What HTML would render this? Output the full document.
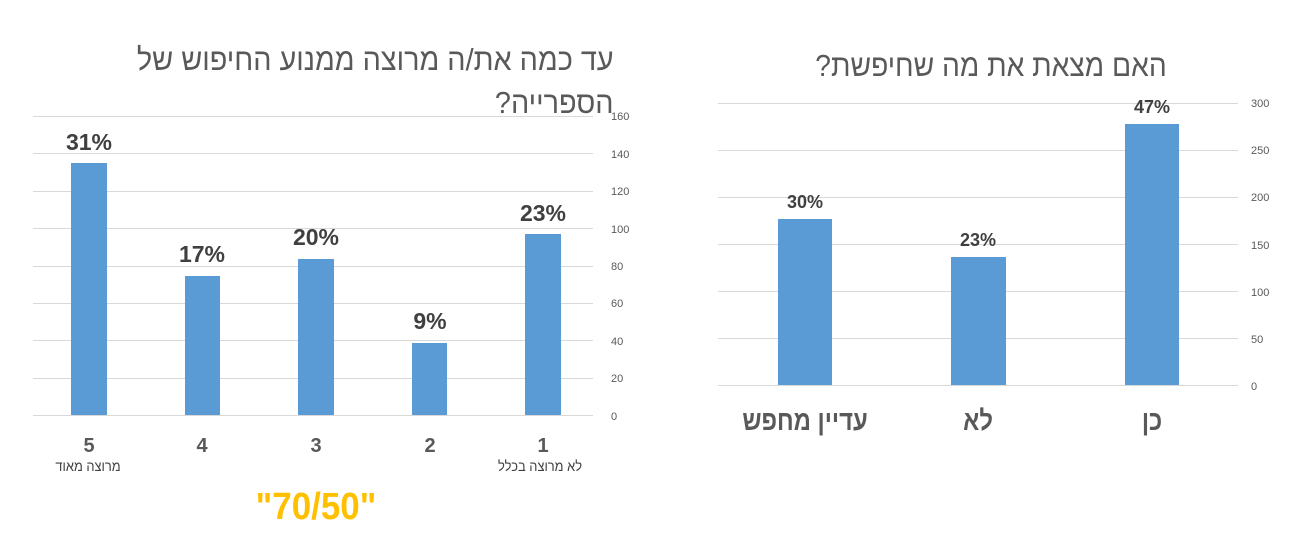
<!DOCTYPE html>
<html><head><meta charset="utf-8"><style>
body{margin:0;width:1294px;height:540px;background:#fff;position:relative;overflow:hidden;font-family:"Liberation Sans","Noto Sans CJK SC",sans-serif;}
.a{position:absolute;white-space:nowrap;}
.g{position:absolute;height:1px;background:#d9d9d9;}
.b{position:absolute;background:#5b9bd5;}
.t{font-size:11px;color:#595959;}
.c{transform:translateX(-50%);text-align:center;}
.p{font-weight:bold;color:#404040;}
.h{direction:rtl;color:#595959;}
</style></head><body>
<!-- left chart -->
<div class="g" style="left:33px;width:560px;top:116px"></div>
<div class="g" style="left:33px;width:560px;top:153px"></div>
<div class="g" style="left:33px;width:560px;top:191px"></div>
<div class="g" style="left:33px;width:560px;top:228px"></div>
<div class="g" style="left:33px;width:560px;top:266px"></div>
<div class="g" style="left:33px;width:560px;top:303px"></div>
<div class="g" style="left:33px;width:560px;top:340px"></div>
<div class="g" style="left:33px;width:560px;top:378px"></div>
<div class="g" style="left:33px;width:560px;top:415px"></div>
<div class="a t" style="left:611px;top:111px">160</div>
<div class="a t" style="left:611px;top:149px">140</div>
<div class="a t" style="left:611px;top:186px">120</div>
<div class="a t" style="left:611px;top:224px">100</div>
<div class="a t" style="left:611px;top:261px">80</div>
<div class="a t" style="left:611px;top:298px">60</div>
<div class="a t" style="left:611px;top:336px">40</div>
<div class="a t" style="left:611px;top:373px">20</div>
<div class="a t" style="left:611px;top:411px">0</div>
<div class="b" style="left:71px;width:36px;top:163px;height:252px"></div>
<div class="b" style="left:185px;width:35px;top:276px;height:139px"></div>
<div class="b" style="left:298px;width:36px;top:259px;height:156px"></div>
<div class="b" style="left:412px;width:35px;top:343px;height:72px"></div>
<div class="b" style="left:525px;width:36px;top:234px;height:181px"></div>
<div class="a p c" style="left:89px;top:129px;font-size:23px">31%</div>
<div class="a p c" style="left:202px;top:241px;font-size:23px">17%</div>
<div class="a p c" style="left:316px;top:224px;font-size:23px">20%</div>
<div class="a p c" style="left:430px;top:308px;font-size:23px">9%</div>
<div class="a p c" style="left:543px;top:200px;font-size:23px">23%</div>
<div class="a c" style="left:89px;top:435px;font-size:20px;font-weight:bold;color:#595959">5</div>
<div class="a c" style="left:202px;top:435px;font-size:20px;font-weight:bold;color:#595959">4</div>
<div class="a c" style="left:316px;top:435px;font-size:20px;font-weight:bold;color:#595959">3</div>
<div class="a c" style="left:430px;top:435px;font-size:20px;font-weight:bold;color:#595959">2</div>
<div class="a c" style="left:543px;top:435px;font-size:20px;font-weight:bold;color:#595959">1</div>
<div class="a c h" style="left:88px;top:458px;font-size:14px;color:#404040;transform:translateX(-50%) scaleX(0.92)">מרוצה מאוד</div>
<div class="a c h" style="left:540px;top:458px;font-size:14px;color:#404040;transform:translateX(-50%) scaleX(0.92)">לא מרוצה בכלל</div>
<div class="a c" style="left:316px;top:486px;font-size:38px;font-weight:bold;color:#ffc000;transform:translateX(-50%) scaleX(0.92)">"70/50"</div>
<div class="a h" style="right:680px;top:42px;font-size:31px;transform:scaleX(0.93);transform-origin:right center">עד כמה את/ה מרוצה ממנוע החיפוש של</div>
<div class="a h" style="right:680px;top:85px;font-size:31px;transform:scaleX(0.93);transform-origin:right center">הספרייה?</div>
<!-- right chart -->
<div class="g" style="left:718px;width:520px;top:103px"></div>
<div class="g" style="left:718px;width:520px;top:150px"></div>
<div class="g" style="left:718px;width:520px;top:197px"></div>
<div class="g" style="left:718px;width:520px;top:244px"></div>
<div class="g" style="left:718px;width:520px;top:291px"></div>
<div class="g" style="left:718px;width:520px;top:338px"></div>
<div class="g" style="left:718px;width:520px;top:385px"></div>
<div class="a t" style="left:1251px;top:98px">300</div>
<div class="a t" style="left:1251px;top:145px">250</div>
<div class="a t" style="left:1251px;top:192px">200</div>
<div class="a t" style="left:1251px;top:240px">150</div>
<div class="a t" style="left:1251px;top:287px">100</div>
<div class="a t" style="left:1251px;top:334px">50</div>
<div class="a t" style="left:1251px;top:381px">0</div>
<div class="b" style="left:778px;width:54px;top:219px;height:166px"></div>
<div class="b" style="left:951px;width:55px;top:257px;height:128px"></div>
<div class="b" style="left:1125px;width:54px;top:124px;height:261px"></div>
<div class="a p c" style="left:805px;top:192px;font-size:18px">30%</div>
<div class="a p c" style="left:978px;top:230px;font-size:18px">23%</div>
<div class="a p c" style="left:1152px;top:97px;font-size:18px">47%</div>
<div class="a c h" style="left:805px;top:405px;font-size:28px;font-weight:bold;transform:translateX(-50%) scaleX(0.85)">עדיין מחפש</div>
<div class="a c h" style="left:978px;top:405px;font-size:28px;font-weight:bold;transform:translateX(-50%) scaleX(0.85)">לא</div>
<div class="a c h" style="left:1152px;top:405px;font-size:28px;font-weight:bold;transform:translateX(-50%) scaleX(0.85)">כן</div>
<div class="a c h" style="left:991px;top:48px;font-size:31px;transform:translateX(-50%) scaleX(0.91)">האם מצאת את מה שחיפשת?</div>
</body></html>
